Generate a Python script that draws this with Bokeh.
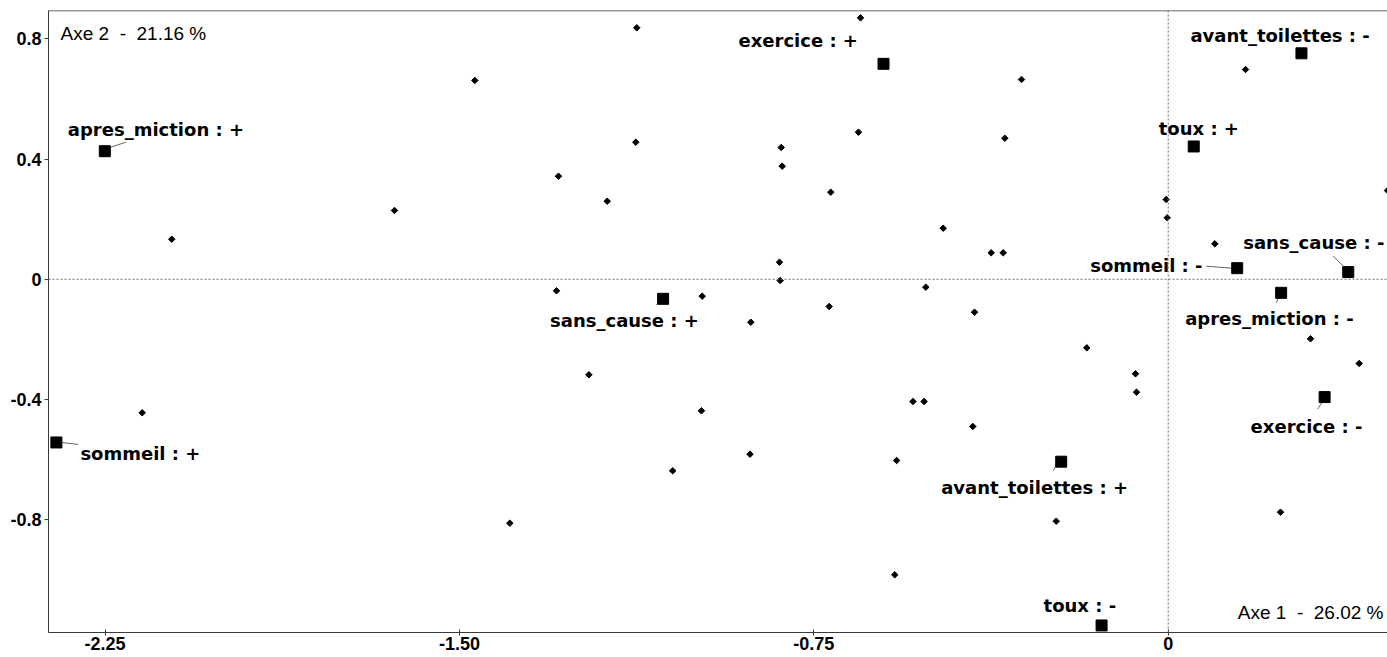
from bokeh.plotting import figure
from bokeh.models import ColumnDataSource, FixedTicker, Span, Label, Range1d
from bokeh.embed import file_html
from bokeh.resources import INLINE
from bokeh.core.properties import value

# ---- data: supplementary individuals (small dots) ----
ind_x = [-1.1247, -0.6512, -1.4675, -0.3105, 0.1636, -0.6555, -0.3458, -1.1268,
         -0.8190, -0.8169, -1.2904, -1.1873, -0.7141, -0.0042, -0.0021, -1.6375,
         -2.1088, -0.4762, 0.0986, -0.3746, -0.3492, 0.4641, -0.8226, -0.8212,
         -1.2946, -0.9862, -0.5130, -0.7175, -0.4099, -0.8834, -0.1723, 0.3012,
         0.4042, -0.0692, -0.0671, -1.2260, -0.9879, -0.5401, -0.5166, -0.4135,
         -2.1714, -0.8851, -0.5748, -1.0487, 0.2377, -0.2370, -1.3934, -0.5788]
ind_y = [0.837, 0.870, 0.6616, 0.6649, 0.6982, 0.4895, 0.4695, 0.4562,
         0.4386, 0.3764, 0.3431, 0.2599, 0.2899, 0.2656, 0.2047, 0.2290,
         0.1334, 0.1700, 0.1181, 0.0882, 0.0882, 0.2955, 0.0569, -0.0040,
         -0.0383, -0.0562, -0.0263, -0.0905, -0.1095, -0.1428, -0.2280, -0.1980,
         -0.2802, -0.3145, -0.3757, -0.3178, -0.4376, -0.4067, -0.4067, -0.4898,
         -0.4443, -0.5820, -0.6030, -0.6373, -0.7750, -0.8050, -0.8116, -0.9834]

# ---- data: modalities (squares) ----
mod_labels = ["apres_miction : +", "sommeil : +", "sans_cause : +", "exercice : +",
              "avant_toilettes : +", "toux : -", "avant_toilettes : -", "toux : +",
              "sommeil : -", "sans_cause : -", "apres_miction : -", "exercice : -"]
mod_x = [-2.2505, -2.353, -1.069, -0.6025, -0.2265, -0.141, 0.282, 0.054,
         0.146, 0.381, 0.239, 0.331]
mod_y = [0.4263, -0.543, -0.065, 0.717, -0.607, -1.152, 0.752, 0.442,
         0.037, 0.024, -0.045, -0.392]

x_ticks = [-2.25, -1.5, -0.75, 0]
x_tick_labels = ["-2.25", "-1.50", "-0.75", "0"]
y_ticks = [-0.8, -0.4, 0, 0.4, 0.8]
y_tick_labels = ["-0.8", "-0.4", "0", "0.4", "0.8"]

NB = "\u00a0"
axis1_title = "Axe 1" + NB + NB + "-" + NB + NB + "26.02 %"
axis2_title = "Axe 2" + NB + NB + "-" + NB + NB + "21.16 %"

# ---- layout / style ----
X_START, X_END = -2.3697, 0.4641
Y_START, Y_END = -1.1754, 0.8945
FW, FH = 1339, 622
PX_X = FW / (X_END - X_START)
PX_Y = FH / (Y_END - Y_START)

# label offsets in screen px (dx right, dy down), relative to square
label_dx = [-37, 24, -113, -145, -120, -58, -111, -35, -147, -105, -96, -74]
label_dy = [-22, 11, 22, -23, 26, -20, -18, -18, -3, -30, 26, 29]
# leader lines: index of modality, start/end offsets in screen px
lead_idx = [0, 1, 2, 4, 8, 9, 10, 11]
lead_off = [(6, -4, 21, -9), (5, 0, 22, 2), (-5, 4, -7, 6), (-5, 4, -8, 9),
            (-31, -2, -6, 0), (-15, -16, -4, -5), (-3, 6, -5, 10), (-3, 6, -7, 12)]

AXIS_COLOR = "#3a3a3a"

p = figure(frame_width=FW, frame_height=FH,
           x_range=Range1d(X_START, X_END), y_range=Range1d(Y_START, Y_END),
           output_backend="svg", toolbar_location=None,
           min_border_left=48, min_border_right=0, min_border_top=10, min_border_bottom=0)
p.xgrid.visible = False
p.ygrid.visible = False
p.outline_line_color = None
p.background_fill_color = "white"

p.xaxis.ticker = FixedTicker(ticks=x_ticks)
p.xaxis.major_label_overrides = dict(zip(x_ticks, x_tick_labels))
p.yaxis.ticker = FixedTicker(ticks=y_ticks)
p.yaxis.major_label_overrides = dict(zip(y_ticks, y_tick_labels))
for ax in (p.xaxis, p.yaxis):
    ax.axis_line_color = AXIS_COLOR
    ax.major_tick_line_color = AXIS_COLOR
    ax.minor_tick_line_color = None
    ax.major_label_text_font = "Liberation Sans"
    ax.major_label_text_font_style = "bold"
    ax.major_label_text_font_size = "18px"
    ax.major_label_text_color = "black"
p.xaxis.major_tick_in = 3
p.xaxis.major_tick_out = 3
p.xaxis.major_label_standoff = 1
p.yaxis.major_tick_in = 0
p.yaxis.major_tick_out = 4
p.yaxis.major_label_standoff = 3

# top border line
p.add_layout(Span(location=Y_END, dimension="width", line_color=AXIS_COLOR, line_width=1.5))
# zero lines
p.add_layout(Span(location=0, dimension="height", line_color="#707070", line_dash="2 2", line_width=1))
p.add_layout(Span(location=0, dimension="width", line_color="#707070", line_dash="2 2", line_width=1))

# individuals
p.scatter(ind_x, ind_y, marker="square", angle=0.7854, size=4.6, color="black")

# leader lines
x0s, y0s, x1s, y1s = [], [], [], []
for i, (a, b, c, d) in zip(lead_idx, lead_off):
    x0s.append(mod_x[i] + a / PX_X)
    y0s.append(mod_y[i] - b / PX_Y)
    x1s.append(mod_x[i] + c / PX_X)
    y1s.append(mod_y[i] - d / PX_Y)
p.segment(x0s, y0s, x1s, y1s, line_color="#666666", line_width=1)

# modalities
src = ColumnDataSource(dict(x=mod_x, y=mod_y, label=mod_labels, dx=label_dx, dy=label_dy))
p.scatter("x", "y", source=src, marker="square", size=11, color="black")
p.text("x", "y", text="label", source=src, x_offset="dx", y_offset="dy",
       text_font=value("DejaVu Sans"), text_font_style="bold", text_font_size="18px",
       text_baseline="middle", text_align="left", text_color="black")

# axis titles inside the frame
p.add_layout(Label(x=X_START, y=Y_END, x_offset=12, y_offset=-23, text=axis2_title,
                   text_font="Liberation Sans", text_font_size="19px",
                   text_baseline="middle", text_align="left", text_color="black"))
p.add_layout(Label(x=X_END, y=Y_START, x_offset=-4, y_offset=20, text=axis1_title,
                   text_font="Liberation Sans", text_font_size="19px",
                   text_baseline="middle", text_align="right", text_color="black"))

open("out.html", "w").write(file_html(p, INLINE))
